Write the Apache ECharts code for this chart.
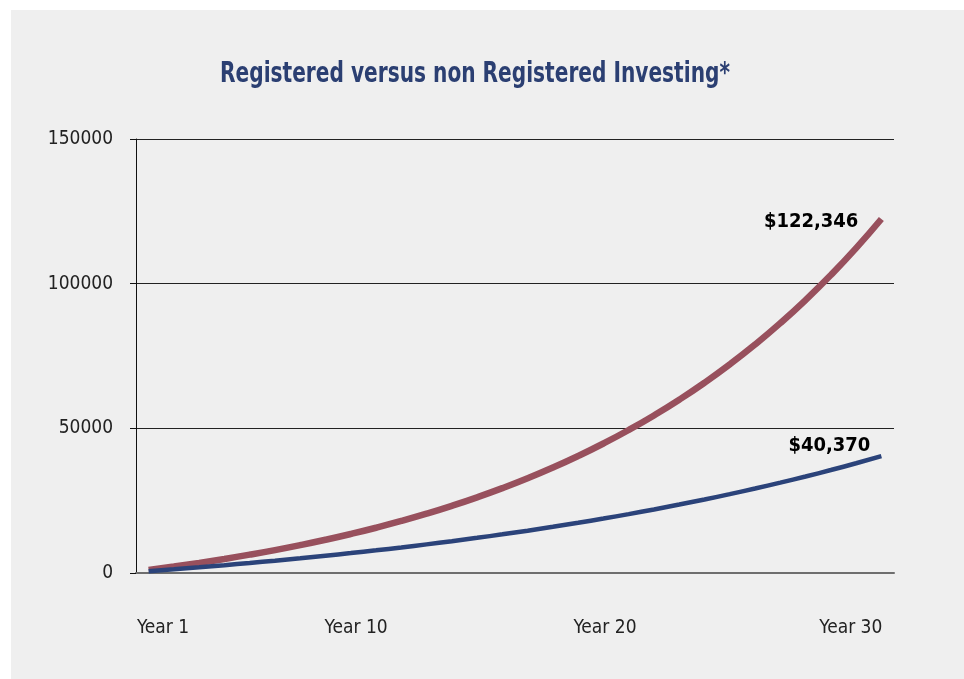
<!DOCTYPE html>
<html>
<head>
<meta charset="utf-8">
<script src="https://cdn.jsdelivr.net/npm/echarts@6/dist/echarts.min.js"></script>
<style>
html,body{margin:0;padding:0;background:#ffffff;}
#panel{position:absolute;left:11px;top:10px;width:953px;height:669px;background:#efefef;}
#chart{position:absolute;left:0;top:0;width:964px;height:679px;}
</style>
</head>
<body>
<div id="panel"></div>
<div id="chart"></div>
<script>
// Categories: years 1..30
var years = ['Year 1','Year 2','Year 3','Year 4','Year 5','Year 6','Year 7','Year 8','Year 9','Year 10',
  'Year 11','Year 12','Year 13','Year 14','Year 15','Year 16','Year 17','Year 18','Year 19','Year 20',
  'Year 21','Year 22','Year 23','Year 24','Year 25','Year 26','Year 27','Year 28','Year 29','Year 30'];

// Registered investing (red)
var registered = [1080, 2246, 3506, 4867, 6336, 7923, 9637, 11488, 13487, 15646,
  17977, 20495, 23215, 26152, 29324, 32750, 36450, 40446, 44762, 49423,
  54457, 59893, 65765, 72106, 78954, 86351, 94339, 102966, 112283, 122346];

// Non registered investing (blue)
var nonRegistered = [629, 1288, 1978, 2702, 3461, 4256, 5089, 5962, 6877, 7836,
  8840, 9894, 10997, 12154, 13366, 14637, 15968, 17363, 18825, 20358,
  21964, 23647, 25411, 27259, 29196, 31227, 33354, 35584, 37921, 40370];

// Tick labels
var xTickLabels = ['Year 1', 'Year 10', 'Year 20', 'Year 30'];
var yTicks = [0, 50000, 100000, 150000];
var titleText = 'Registered versus non Registered Investing*';

var FONT = "'Liberation Sans Narrow', 'DejaVu Sans Condensed', 'Arial Narrow', sans-serif";

function money(v){ return '$' + Math.round(v).toLocaleString('en-US'); }

var xLabelPos = [1.07, 8.71, 18.56, 28.29];

var chart = echarts.init(document.getElementById('chart'), null, {renderer: 'canvas'});
chart.setOption({
  backgroundColor: 'transparent',
  animation: false,
  graphic: [{
    type: 'text',
    x: 475,
    y: 75,
    scaleX: 0.8,
    silent: true,
    style: {
      text: titleText,
      fontFamily: FONT, fontWeight: 'bold', fontSize: 28,
      fill: '#2b3f72',
      align: 'center', verticalAlign: 'middle'
    }
  }],
  grid: { left: 136, right: 70, top: 139, bottom: 106, containLabel: false },
  xAxis: [{
    type: 'category',
    data: years,
    boundaryGap: true,
    axisLine: { show: true, lineStyle: { color: '#6e6e6e', width: 2 } },
    axisTick: { show: false },
    axisLabel: { show: false },
    splitLine: { show: false }
  }, {
    type: 'value',
    position: 'bottom',
    min: 0, max: 30,
    axisLine: { show: false },
    axisTick: { show: false },
    splitLine: { show: false },
    axisLabel: {
      show: true,
      customValues: xLabelPos,
      margin: 46,
      fontFamily: FONT, fontSize: 19, color: '#222222',
      formatter: function(v){
        var best = 0;
        for (var i = 0; i < xLabelPos.length; i++) if (Math.abs(xLabelPos[i]-v) < Math.abs(xLabelPos[best]-v)) best = i;
        return xTickLabels[best];
      }
    }
  }],
  yAxis: {
    type: 'value',
    min: yTicks[0],
    max: yTicks[yTicks.length-1],
    interval: yTicks[1] - yTicks[0],
    axisLine: { show: true, lineStyle: { color: '#111111', width: 1 } },
    axisTick: { show: true, inside: false, length: 6, lineStyle: { color: '#111111' } },
    axisLabel: { margin: 23, fontFamily: FONT, fontSize: 19, color: '#222222',
      formatter: function(v){ return String(v); } },
    splitLine: { show: true, lineStyle: { color: '#222222', width: 1 } }
  },
  series: [{
    name: 'Registered',
    type: 'line',
    xAxisIndex: 0,
    data: registered,
    smooth: true,
    showSymbol: false,
    symbol: 'none',
    lineStyle: { color: '#98505d', width: 6.5 },
    itemStyle: { color: '#98505d' },
    endLabel: {
      show: true, distance: 0, offset: [-23, 3], align: 'right',
      formatter: function(p){ return money(p.value); },
      fontFamily: FONT, fontWeight: 'bold', fontSize: 20, color: '#000000'
    },
    z: 3
  }, {
    name: 'Non Registered',
    type: 'line',
    xAxisIndex: 0,
    data: nonRegistered,
    smooth: true,
    showSymbol: false,
    symbol: 'none',
    lineStyle: { color: '#2b437a', width: 4.5 },
    itemStyle: { color: '#2b437a' },
    endLabel: {
      show: true, distance: 0, offset: [-11, -10], align: 'right',
      formatter: function(p){ return money(p.value); },
      fontFamily: FONT, fontWeight: 'bold', fontSize: 20, color: '#000000'
    },
    z: 4
  }]
});
</script>
</body>
</html>
